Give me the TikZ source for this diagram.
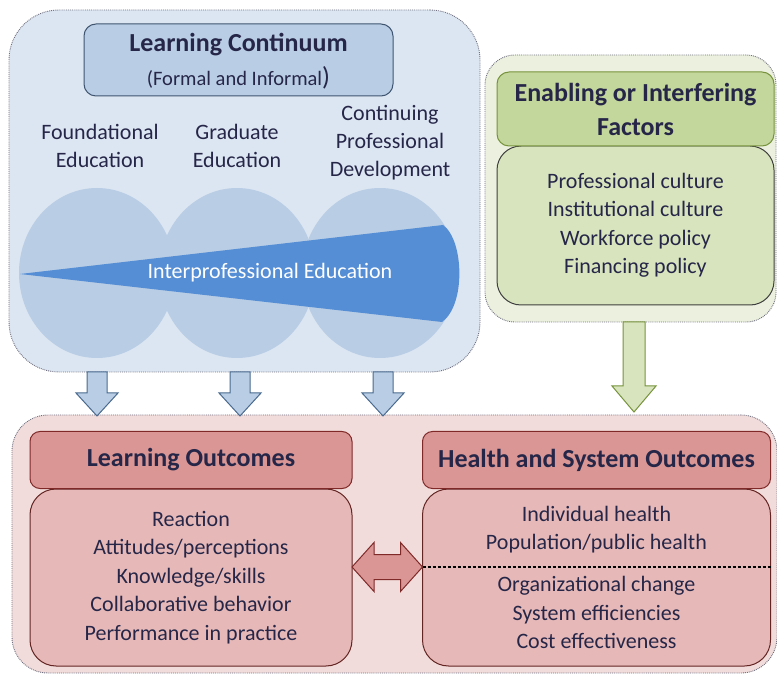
\documentclass[tikz,border=0pt]{standalone}
\usepackage{fontspec}
\setmainfont{Carlito}
\usetikzlibrary{calc,shapes.geometric}
\definecolor{txt}{HTML}{262648}
\definecolor{topbg}{HTML}{DCE6F2}
\definecolor{panelline}{HTML}{6F6F7F}
\definecolor{titlefill}{HTML}{B9CDE5}
\definecolor{titledraw}{HTML}{3F5570}
\definecolor{circfill}{HTML}{B9CDE5}
\definecolor{wedgefill}{HTML}{558ED5}
\definecolor{greenbg}{HTML}{EBF1DE}
\definecolor{greenhead}{HTML}{C3D69B}
\definecolor{greenheaddraw}{HTML}{77933C}
\definecolor{greenbody}{HTML}{D7E4BD}
\definecolor{greenbodydraw}{HTML}{3F3F3F}
\definecolor{pinkbg}{HTML}{F2DCDB}
\definecolor{pinkhead}{HTML}{D99694}
\definecolor{pinkheaddraw}{HTML}{7F2A28}
\definecolor{pinkbody}{HTML}{E6B9B8}
\definecolor{pinkbodydraw}{HTML}{632523}
\definecolor{bluearrow}{HTML}{B9CDE5}
\definecolor{bluearrowdraw}{HTML}{4A6A8F}
\definecolor{greenarrow}{HTML}{D7E4BD}
\definecolor{greenarrowdraw}{HTML}{77933C}
\begin{document}
\begin{tikzpicture}[x=1pt,y=-1pt,
  panel/.style={rectangle, inner sep=0pt, outer sep=0pt, draw=panelline, densely dotted, line width=0.9pt},
  hdrbox/.style={rectangle, inner sep=0pt, outer sep=0pt, line width=1pt, rounded corners=10pt, text=txt, align=center, font=\fontsize{26}{34}\selectfont\bfseries},
  bodybox/.style={rectangle, inner sep=0pt, outer sep=0pt, line width=1pt, rounded corners=26pt, text=txt, align=center, font=\fontsize{22}{28.5}\selectfont},
  lbl/.style={text=txt, align=center, inner sep=0pt, font=\fontsize{22}{28}\selectfont},
  blockarrow/.style={line width=1pt, line join=miter}
]
\useasboundingbox (0,0) rectangle (777,676);

% ---------- panels ----------
\node[panel, fill=pinkbg, rounded corners=36pt, minimum width=765, minimum height=258] (bottompanel) at (394.5,544) {};
\node[panel, fill=greenbg, rounded corners=30pt, minimum width=291, minimum height=267] (rightpanel) at (630.5,188.5) {};
\node[panel, fill=topbg, rounded corners=50pt, minimum width=471, minimum height=362] (toppanel) at (244.5,191) {};

% ---------- learning continuum ----------
\node[rectangle, draw=titledraw, fill=titlefill, line width=1pt, rounded corners=12pt, minimum width=309, minimum height=72, inner sep=0pt] (titlebox) at (238.5,60) {};
\node[text=txt, inner sep=0pt, font=\fontsize{26}{30}\selectfont\bfseries] (titletext) at (238.5,45) {Learning Continuum};
\node[text=txt, inner sep=0pt, font=\fontsize{20.5}{24}\selectfont] (subtitletext) at (238.5,78) {(Formal and Informal{\fontsize{26}{26}\selectfont )}};

\node[lbl] (found) at (100,146) {Foundational\\Education};
\node[lbl] (grad) at (237,146) {Graduate\\Education};
\node[lbl] (cpd) at (390,143) {Continuing\\Professional\\Development};

\node[ellipse, fill=circfill, minimum width=156, minimum height=170, inner sep=0pt] (c1) at (97,273) {};
\node[ellipse, fill=circfill, minimum width=156, minimum height=170, inner sep=0pt] (c2) at (237,273) {};
\node[ellipse, fill=circfill, minimum width=156, minimum height=170, inner sep=0pt] (c3) at (380,273) {};

\coordinate (wtip) at (20,274);
\coordinate (wtop) at (443,225);
\coordinate (wbot) at (442,322);
\fill[wedgefill] (wtip) -- (wtop) .. controls (464,240) and (466,305) .. (wbot) -- cycle;
\node[text=white, inner sep=0pt, font=\fontsize{22}{26}\selectfont] (ipe) at (270,273) {Interprofessional Education};

% ---------- enabling factors ----------
\node[bodybox, draw=greenbodydraw, fill=greenbody, rounded corners=24pt, minimum width=277, minimum height=159] (efbody) at (635.5,225.5)
  {Professional culture\\Institutional culture\\Workforce policy\\Financing policy};
\node[hdrbox, draw=greenheaddraw, fill=greenhead, rounded corners=12pt, minimum width=277, minimum height=74] (efhead) at (635.5,109)
  {Enabling or Interfering\\Factors};

% ---------- outcomes ----------
\node[bodybox, draw=pinkbodydraw, fill=pinkbody, minimum width=322, minimum height=177] (lobody) at (191,577.5)
  {Reaction\\Attitudes/perceptions\\Knowledge/skills\\Collaborative behavior\\Performance in practice};
\node[hdrbox, draw=pinkheaddraw, fill=pinkhead, minimum width=322, minimum height=57] (lohead) at (191,460)
  {Learning Outcomes};

\node[bodybox, draw=pinkbodydraw, fill=pinkbody, minimum width=348, minimum height=177] (hsobody) at (596.5,577.5)
  {Individual health\\Population/public health\\[13.5pt]Organizational change\\System efficiencies\\Cost effectiveness};
\node[hdrbox, draw=pinkheaddraw, fill=pinkhead, minimum width=348, minimum height=57] (hsohead) at (596.5,460)
  {Health and System Outcomes};

\coordinate (dashl) at (hsobody.west |- 0,567);
\coordinate (dashr) at (hsobody.east |- 0,567);
\draw[dash pattern=on 3pt off 2pt, line width=1.3pt, black] (dashl) -- (dashr);

% ---------- block arrows ----------
\foreach \n/\cx in {a1/97, a2/240, a3/383}{
  \coordinate (\n) at (\cx,372);
  \draw[blockarrow, fill=bluearrow, draw=bluearrowdraw]
    ($(\n)+(-10,0)$) -- ($(\n)+(10,0)$) -- ($(\n)+(10,21)$) -- ($(\n)+(21,21)$) -- ($(\n)+(0,44)$)
    -- ($(\n)+(-21,21)$) -- ($(\n)+(-10,21)$) -- cycle;
}
\draw[blockarrow, fill=greenarrow, draw=greenarrowdraw]
  (623,322) -- (645,322) -- (645,386) -- (656,386) -- (634,412) -- (612,386) -- (623,386) -- cycle;

\coordinate (dal) at (lobody.east |- 0,567);
\coordinate (dar) at (hsobody.west |- 0,567);
\draw[blockarrow, fill=pinkhead, draw=pinkheaddraw]
  (dal) -- ($(dal)+(22,-24.5)$) -- ($(dal)+(22,-12.5)$) -- ($(dar)+(-22,-12.5)$) -- ($(dar)+(-22,-24.5)$)
  -- (dar) -- ($(dar)+(-22,24.5)$) -- ($(dar)+(-22,12.5)$) -- ($(dal)+(22,12.5)$) -- ($(dal)+(22,24.5)$) -- cycle;
\end{tikzpicture}
\end{document}
